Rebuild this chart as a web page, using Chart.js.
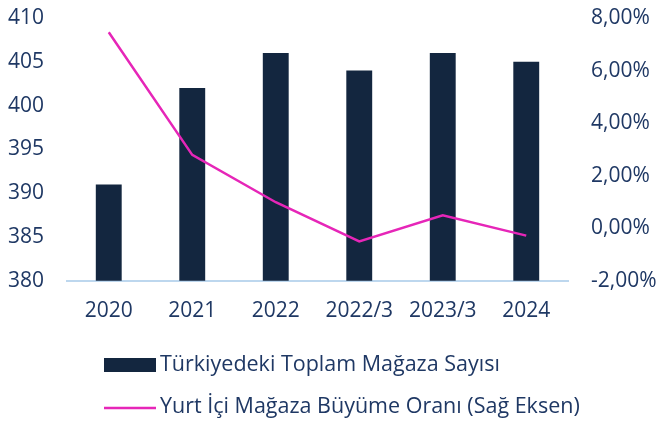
<!DOCTYPE html>
<html>
<head>
<meta charset="utf-8">
<script src="https://cdn.jsdelivr.net/npm/chart.js@4.4.1/dist/chart.umd.min.js"></script>
<style>
    html, body { margin: 0; padding: 0; background: #fff; }
    #wrap { width: 658px; height: 425px; }
</style>
</head>
<body>
<div id="wrap"><canvas id="storeChart" width="658" height="425"></canvas></div>
<script>
var categories = ['2020', '2021', '2022', '2022/3', '2023/3', '2024'];
var storeCount = [391, 402, 406, 404, 406, 405];
var growthRate = [7.46, 2.79, 0.99, -0.5, 0.49, -0.28];
var storeLabel = 'Türkiyedeki Toplam Mağaza Sayısı';
var growthLabel = 'Yurt İçi Mağaza Büyüme Oranı (Sağ Eksen)';

var textColor = '#1f3864';
var barColor = '#13263f';
var lineColor = '#e626b8';
var fontFamily = '"Open Sans", sans-serif';

// legend is drawn by hand so both rows line up on the left like the original
var manualLegend = {
    id: 'manualLegend',
    afterDraw: function (chart) {
        var ctx = chart.ctx;
        ctx.save();
        ctx.font = '21.5px ' + fontFamily;
        ctx.textBaseline = 'middle';

        ctx.fillStyle = barColor;
        ctx.fillRect(104, 358, 52, 14);
        ctx.fillStyle = textColor;
        ctx.fillText(chart.data.datasets[0].label, 160, 365);

        ctx.strokeStyle = lineColor;
        ctx.lineWidth = 2.5;
        ctx.beginPath();
        ctx.moveTo(104, 408);
        ctx.lineTo(156, 408);
        ctx.stroke();
        ctx.fillText(chart.data.datasets[1].label, 160, 407);
        ctx.restore();
    }
};

// fixed width, no extra top/bottom padding from the tick labels
function fitAxis(width) {
    return function (scale) {
        scale.width = width;
        scale.paddingTop = 0;
        scale.paddingBottom = 0;
    };
}

var ctx = document.getElementById('storeChart').getContext('2d');
new Chart(ctx, {
    type: 'bar',
    data: {
        labels: categories,
        datasets: [{
                type: 'bar',
                label: storeLabel,
                data: storeCount,
                backgroundColor: barColor,
                yAxisID: 'y',
                categoryPercentage: 1,
                barPercentage: 0.31,
                order: 1
            },
            {
                type: 'line',
                label: growthLabel,
                data: growthRate,
                borderColor: lineColor,
                backgroundColor: lineColor,
                borderWidth: 2.5,
                pointRadius: 0,
                tension: 0,
                yAxisID: 'y1',
                order: 0
            }
        ]
    },
    options: {
        responsive: false,
        animation: false,
        layout: {
            padding: { top: 18, left: 0, right: 0, bottom: 83 }
        },
        plugins: {
            legend: { display: false },
            tooltip: { enabled: false }
        },
        scales: {
            x: {
                grid: { display: false, drawTicks: false },
                border: { display: true, color: '#bdd7ee', width: 2 },
                ticks: {
                    color: textColor,
                    font: { family: fontFamily, size: 21 },
                    padding: 18,
                    maxRotation: 0,
                    autoSkip: false
                }
            },
            y: {
                position: 'left',
                min: 380,
                max: 410,
                grid: { display: false, drawTicks: false },
                border: { display: false },
                ticks: {
                    stepSize: 5,
                    color: textColor,
                    font: { family: fontFamily, size: 21 },
                    padding: 23
                },
                afterFit: fitAxis(67)
            },
            y1: {
                position: 'right',
                min: -2,
                max: 8,
                grid: { display: false, drawTicks: false },
                border: { display: false },
                ticks: {
                    stepSize: 2,
                    color: textColor,
                    font: { family: fontFamily, size: 21 },
                    padding: 23,
                    callback: function (value) {
                        return value.toFixed(2).replace('.', ',') + '%';
                    }
                },
                afterFit: fitAxis(90)
            }
        }
    },
    plugins: [manualLegend]
});
</script>
</body>
</html>
